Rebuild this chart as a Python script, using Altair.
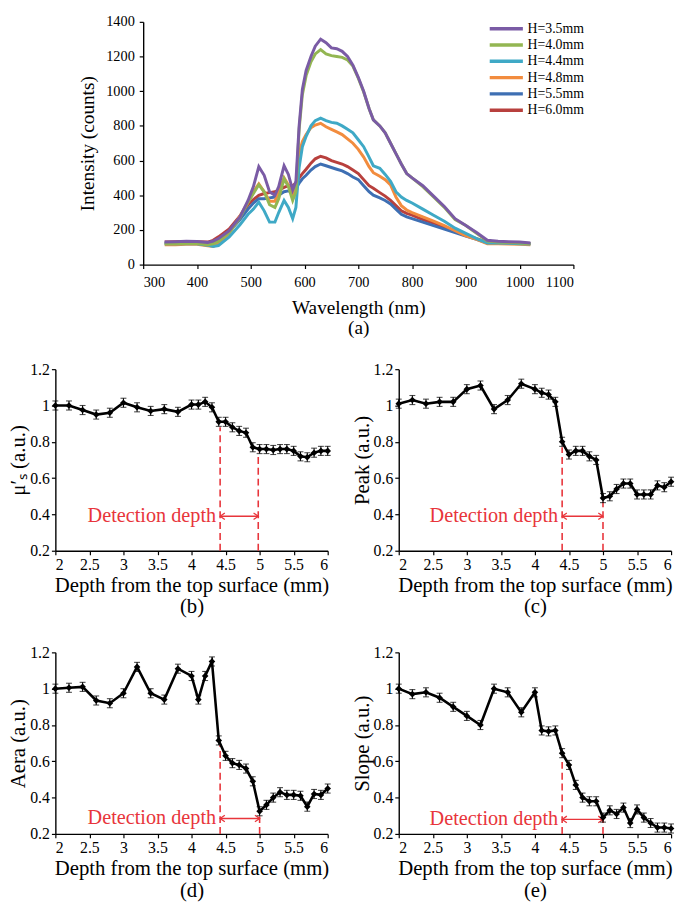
import altair as alt
import pandas as pd

FONT = "Liberation Serif"
RED = "#E8353B"

# ---------------- (a) spectra ----------------
WL = [340, 360, 380, 400, 420, 430, 440, 460, 480, 495, 505, 515, 525, 535, 545,
      552, 562, 570, 578, 584, 590, 596, 603, 612, 620, 630, 640, 650, 660, 670,
      680, 690, 700, 710, 720, 728, 740, 750, 760, 770, 780, 790, 800, 820, 840,
      860, 880, 900, 920, 940, 960, 980, 1000, 1020]

I_35 = [130, 132, 134, 133, 128, 135, 150, 195, 275, 370, 450, 565, 515, 420, 400,
        450, 570, 520, 430, 480, 800, 1010, 1120, 1200, 1260, 1300, 1280, 1250, 1245, 1230,
        1200, 1150, 1080, 1000, 900, 835, 800, 760, 700, 640, 580, 525, 500, 455, 395,
        335, 265, 225, 185, 140, 135, 132, 130, 125]
I_40 = [120, 120, 122, 122, 115, 120, 135, 185, 270, 360, 410, 460, 420, 345, 330,
        380, 495, 450, 370, 420, 780, 980, 1090, 1170, 1215, 1240, 1215, 1205, 1200, 1195,
        1180, 1145, 1075, 995, 900, 835, 800, 760, 700, 640, 580, 525, 500, 450, 390,
        330, 260, 225, 180, 135, 130, 128, 125, 120]
I_44 = [120, 120, 122, 120, 112, 105, 110, 160, 230, 290, 320, 360, 310, 245, 245,
        300, 370, 330, 265, 330, 560, 680, 740, 800, 830, 845, 830, 820, 815, 800,
        780, 760, 720, 680, 620, 570, 555, 520, 480, 420, 390, 370, 355, 320, 285,
        250, 210, 180, 150, 125, 125, 123, 120, 118]
I_48 = [115, 115, 117, 117, 108, 105, 120, 180, 280, 360, 420, 465, 420, 365, 365,
        420, 500, 460, 395, 450, 640, 710, 750, 790, 805, 815, 795, 780, 765, 750,
        725, 700, 665, 620, 565, 530, 510, 490, 460, 390, 340, 315, 300, 275, 250,
        225, 195, 165, 145, 120, 120, 118, 117, 115]
I_55 = [125, 125, 127, 125, 118, 125, 140, 190, 260, 320, 355, 380, 380, 385, 390,
        400, 420, 425, 420, 440, 470, 495, 515, 545, 565, 580, 570, 560, 550, 540,
        525, 505, 490, 455, 420, 400, 385, 370, 350, 320, 290, 275, 265, 245, 225,
        205, 185, 165, 145, 125, 125, 124, 122, 120]
I_60 = [130, 132, 133, 132, 130, 140, 160, 205, 280, 345, 375, 400, 410, 415, 420,
        430, 445, 455, 455, 470, 500, 525, 550, 585, 610, 625, 615, 600, 590, 580,
        565, 545, 525, 490, 455, 440, 415, 395, 370, 340, 310, 295, 285, 260, 240,
        215, 195, 170, 150, 128, 128, 127, 125, 122]

SERIES = ["H=3.5mm", "H=4.0mm", "H=4.4mm", "H=4.8mm", "H=5.5mm", "H=6.0mm"]
COLORS = ["#7A5BA5", "#93B652", "#3FA9C6", "#F28C3E", "#3E6FB3", "#B8403D"]
SPECTRA = [I_35, I_40, I_44, I_48, I_55, I_60]

# ---------------- (b)-(e) depth curves ----------------
DEPTH = [2.0, 2.2, 2.4, 2.6, 2.8, 3.0, 3.2, 3.4, 3.6, 3.8, 4.0, 4.1, 4.2, 4.3, 4.4,
         4.5, 4.6, 4.7, 4.8, 4.9, 5.0, 5.1, 5.2, 5.3, 5.4, 5.5, 5.6, 5.7, 5.8, 5.9, 6.0]
MUS = [1.0, 1.0, 0.975, 0.95, 0.96, 1.015, 0.99, 0.97, 0.98, 0.965, 1.005, 1.005, 1.02, 0.99, 0.91,
       0.91, 0.88, 0.86, 0.85, 0.77, 0.76, 0.76, 0.755, 0.76, 0.76, 0.75, 0.72, 0.715, 0.74, 0.75, 0.75]
PEAK = [1.01, 1.03, 1.01, 1.02, 1.02, 1.09, 1.11, 0.98, 1.03, 1.12, 1.09, 1.07, 1.06, 1.02, 0.80,
        0.73, 0.75, 0.75, 0.72, 0.70, 0.49, 0.50, 0.54, 0.57, 0.57, 0.51, 0.51, 0.51, 0.56, 0.55, 0.58]
AERA = [1.0, 1.005, 1.01, 0.935, 0.92, 0.975, 1.12, 0.975, 0.94, 1.11, 1.07, 0.94, 1.07, 1.15, 0.715,
        0.63, 0.59, 0.58, 0.56, 0.49, 0.325, 0.36, 0.40, 0.43, 0.415, 0.415, 0.41, 0.35, 0.42, 0.415, 0.45]
SLOPE = [1.0, 0.97, 0.98, 0.95, 0.90, 0.85, 0.80, 1.0, 0.98, 0.87, 0.98, 0.77, 0.765, 0.77, 0.645,
         0.58, 0.47, 0.40, 0.38, 0.38, 0.29, 0.33, 0.31, 0.345, 0.26, 0.335, 0.29, 0.26, 0.235, 0.235, 0.23]
ERR = 0.025

DASH_X_B, DASH_TOP_B, ARROW_Y_B = [4.42, 4.98], [0.88, 0.74], 0.39
DASH_X_C, DASH_TOP_C, ARROW_Y_C = [4.40, 5.00], [0.77, 0.47], 0.39
DASH_X_D, DASH_TOP_D, ARROW_Y_D = [4.42, 5.00], [0.69, 0.30], 0.285
DASH_X_E, DASH_TOP_E, ARROW_Y_E = [4.40, 5.00], [0.62, 0.28], 0.28

X_TICKS = [2, 2.5, 3, 3.5, 4, 4.5, 5, 5.5, 6]
Y_TICKS = [0.2, 0.4, 0.6, 0.8, 1.0, 1.2]

# ---------------- chart (a) ----------------
rows = []
for name, vals in reversed(list(zip(SERIES, SPECTRA))):
    for w, v in zip(WL, vals):
        rows.append({"wl": w, "I": v, "H": name})
spec = pd.DataFrame(rows)

legend = alt.Legend(
    title=None, orient="none", legendX=450, legendY=0,
    symbolType="M-4.8,0L4.8,0", symbolSize=49, symbolStrokeWidth=3.5,
    labelFont=FONT, labelFontSize=14, labelColor="black", labelOffset=14.5,
    rowPadding=2.5, padding=0,
)

chart_a = alt.Chart(spec).mark_line(strokeWidth=3).encode(
    x=alt.X("wl:Q", scale=alt.Scale(domain=[300, 1100], nice=False),
            axis=alt.Axis(values=list(range(300, 1101, 100)), format="d",
                          title=["Wavelength (nm)", "(a)"],
                          labelFont=FONT, titleFont=FONT,
                          labelFontSize=14.5, titleFontSize=19.5, titleLineHeight=20,
                          labelPadding=7, titlePadding=10)),
    y=alt.Y("I:Q", scale=alt.Scale(domain=[0, 1400], nice=False),
            axis=alt.Axis(values=list(range(0, 1401, 200)), format="d", title="Intensity (counts)",
                          labelFont=FONT, titleFont=FONT,
                          labelFontSize=14.5, titleFontSize=19.5, labelPadding=5, titlePadding=8)),
    color=alt.Color("H:N", scale=alt.Scale(domain=SERIES, range=COLORS), sort=SERIES, legend=legend),
).properties(width=436, height=246)

spacer = alt.Chart(pd.DataFrame({"a": [0]})).mark_point(opacity=0).encode(
    x=alt.value(0), y=alt.value(0)).properties(width=1, height=1)


def panel(vals, ytitle, caption, dash_x, dash_top, arrow_y):
    df = pd.DataFrame({"d": DEPTH, "v": vals})
    df["lo"] = df["v"] - ERR
    df["hi"] = df["v"] + ERR
    xs = alt.Scale(domain=[2, 6], nice=False)
    ys = alt.Scale(domain=[0.2, 1.2], nice=False)
    xax = alt.Axis(values=X_TICKS, format=".1~f", title=["Depth from the top surface (mm)", caption],
                   labelFont=FONT, titleFont=FONT, labelFontSize=16, titleFontSize=21,
                   titleLineHeight=22, labelPadding=2, titlePadding=2)
    yax = alt.Axis(values=Y_TICKS, format=".1~f", title=ytitle,
                   labelFont=FONT, titleFont=FONT, labelFontSize=16, titleFontSize=21,
                   labelPadding=2, titlePadding=1)

    def X(f):
        return alt.X(f, type="quantitative", scale=xs, axis=xax)

    def Y(f):
        return alt.Y(f, type="quantitative", scale=ys, axis=yax)

    base = alt.Chart(df)
    err = base.mark_rule(color="black", strokeWidth=1.1).encode(x=X("d"), y=Y("lo"), y2="hi")
    cap_lo = base.mark_tick(orient="horizontal", size=6, thickness=1.1, color="black").encode(x=X("d"), y=Y("lo"))
    cap_hi = base.mark_tick(orient="horizontal", size=6, thickness=1.1, color="black").encode(x=X("d"), y=Y("hi"))
    line = base.mark_line(color="black", strokeWidth=2.6).encode(x=X("d"), y=Y("v"))
    pts = base.mark_point(shape="diamond", filled=True, size=45, color="black", opacity=1).encode(x=X("d"), y=Y("v"))

    dash_df = pd.DataFrame({"x": dash_x, "y0": [0.2, 0.2], "y1": dash_top})
    dash = alt.Chart(dash_df).mark_rule(color=RED, strokeDash=[7, 4], strokeWidth=1.6).encode(
        x=X("x"), y=Y("y0"), y2="y1")
    arr_df = pd.DataFrame({"x0": [dash_x[0]], "x1": [dash_x[1]], "y": [arrow_y], "label": ["Detection depth"]})
    arrow = alt.Chart(arr_df).mark_rule(color=RED, strokeWidth=1.3).encode(x=X("x0"), x2="x1", y=Y("y"))
    head_l = alt.Chart(arr_df).mark_point(shape="M1,-0.7L0,0L1,0.7", size=90, filled=False,
                                          color=RED, strokeWidth=1.3, opacity=1).encode(x=X("x0"), y=Y("y"))
    head_r = alt.Chart(arr_df).mark_point(shape="M-1,-0.7L0,0L-1,0.7", size=90, filled=False,
                                          color=RED, strokeWidth=1.3, opacity=1).encode(x=X("x1"), y=Y("y"))
    txt = alt.Chart(arr_df).mark_text(align="right", baseline="middle", dx=-4, font=FONT,
                                      fontSize=20.5, color=RED).encode(x=X("x0"), y=Y("y"), text="label:N")
    return alt.layer(dash, arrow, head_l, head_r, txt, err, cap_lo, cap_hi, line, pts).properties(
        width=276, height=184)


chart_b = panel(MUS, "μ′ₛ (a.u.)", "(b)", DASH_X_B, DASH_TOP_B, ARROW_Y_B)
chart_c = panel(PEAK, "Peak (a.u.)", "(c)", DASH_X_C, DASH_TOP_C, ARROW_Y_C)
chart_d = panel(AERA, "Aera (a.u.)", "(d)", DASH_X_D, DASH_TOP_D, ARROW_Y_D)
chart_e = panel(SLOPE, "Slope (a.u.)", "(e)", DASH_X_E, DASH_TOP_E, ARROW_Y_E)

top = alt.hconcat(spacer, chart_a, spacing=20)
row2 = alt.hconcat(chart_b, chart_c, spacing=18)
row3 = alt.hconcat(chart_d, chart_e, spacing=18)
lower = alt.vconcat(row2, row3, spacing=28)

chart = alt.vconcat(top, lower, spacing=25).properties(
    padding=0
).configure(font=FONT).configure_view(stroke=None).configure_axis(
    domainColor="black", domainWidth=1.4, tickColor="black", tickWidth=1.2, tickSize=4,
    labelFont=FONT, labelFontSize=16, labelColor="black",
    titleFont=FONT, titleFontSize=21, titleFontWeight="normal", titleColor="black",
    grid=False,
).configure_legend(labelFont=FONT)

chart.save("out.html", embed_options={"renderer": "svg", "actions": False})
